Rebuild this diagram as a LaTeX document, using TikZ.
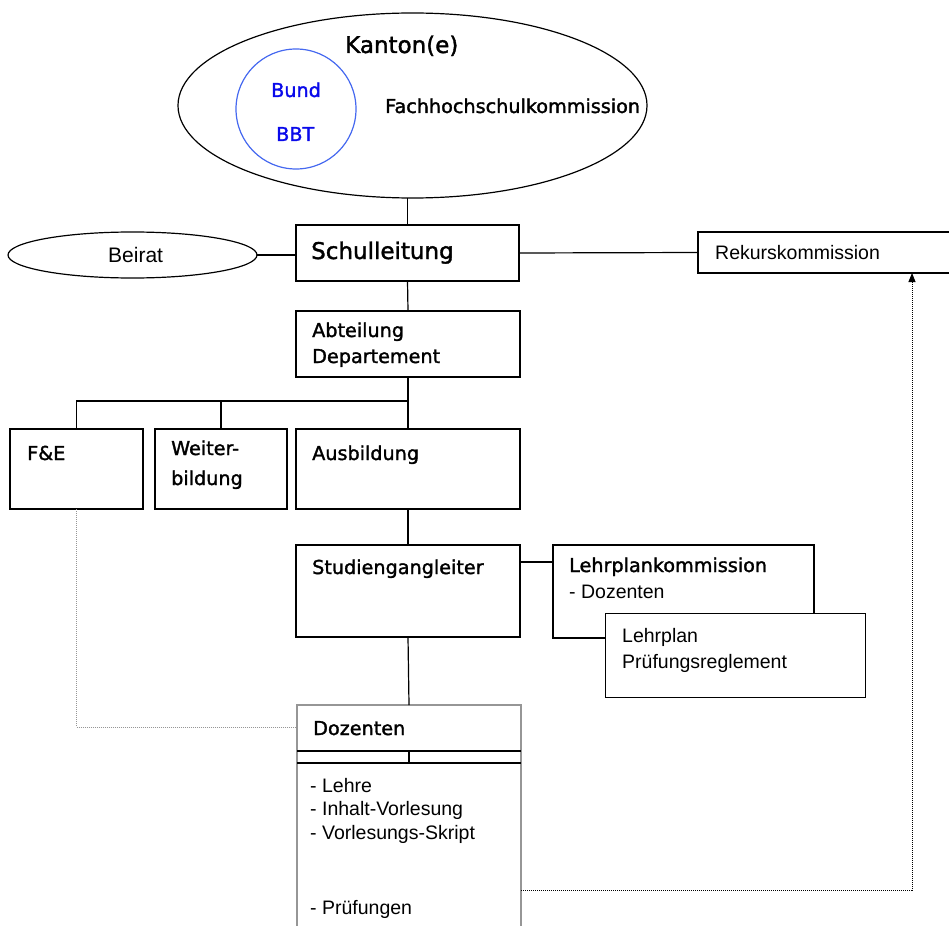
\documentclass[tikz,border=0pt]{standalone}
\usepackage{fontspec}
\setmainfont{DejaVu Sans}
\newfontfamily\hdfont[FakeBold=1.6]{DejaVu Sans}
\newfontfamily\bodyfont{Liberation Sans}
\usetikzlibrary{shapes.geometric,arrows.meta}
\definecolor{circblue}{RGB}{70,105,240}
\definecolor{txtblue}{RGB}{10,10,235}
\definecolor{dozgray}{RGB}{150,150,150}
\begin{document}
\begin{tikzpicture}[x=1pt,y=-1pt,
  box/.style={draw, line width=1.2pt, fill=white, inner sep=0pt, outer sep=0pt},
  hd/.style={font=\hdfont\fontsize{19.2}{24}\selectfont, anchor=base west, inner sep=0pt},
  big/.style={font=\hdfont\fontsize{23}{28}\selectfont, anchor=base west, inner sep=0pt},
  bd/.style={font=\bodyfont\fontsize{19.5}{24}\selectfont, anchor=base west, inner sep=0pt},
  conn/.style={line width=1.2pt},
  dots/.style={line width=1pt, dash pattern=on 1pt off 1pt}]
\useasboundingbox[fill=white] (0,0) rectangle (949,925);

% Top ellipse
\node[ellipse, draw, line width=1.2pt, minimum width=469pt, minimum height=185pt, inner sep=0pt, outer sep=0pt] (kanton) at (412.5,105.5) {};
\node[circle, draw=circblue, line width=1.2pt, minimum size=120pt, inner sep=0pt] (bund) at (296,109) {};
\node[big] (kantontxt) at (345,53) {Kanton(e)};
\node[hd, text=txtblue] (bundtxt) at (271,97) {Bund};
\node[hd, text=txtblue] (bbttxt) at (276,141) {BBT};
\node[hd] (fhk) at (385,113) {Fachhochschulkommission};

% Schulleitung row
\node[box, minimum width=223pt, minimum height=56pt] (schul) at (407.5,253) {};
\node[big] (schultxt) at (311,259) {Schulleitung};
\node[ellipse, draw, line width=1.2pt, minimum width=249pt, minimum height=46pt, inner sep=0pt, outer sep=0pt] (beirat) at (132.5,255) {};
\node[bd, font=\bodyfont\fontsize{21}{24}\selectfont] (beirattxt) at (108,262) {Beirat};
\node[box, minimum width=262pt, minimum height=41pt] (rekurs) at (829,252.5) {};
\node[bd] (rekurstxt) at (715,259) {Rekurskommission};

% Abteilung
\node[box, minimum width=224pt, minimum height=66pt] (abt) at (408,344) {};
\node[hd] (abt1) at (312,337) {Abteilung};
\node[hd] (abt2) at (312,363) {Departement};

% Third row
\node[box, minimum width=133pt, minimum height=80pt] (fe) at (76.5,469) {};
\node[hd] (fetxt) at (27,460) {F\&E};
\node[box, minimum width=132pt, minimum height=80pt] (wb) at (221,469) {};
\node[hd] (wb1) at (171,455) {Weiter-};
\node[hd] (wb2) at (171,485) {bildung};
\node[box, minimum width=224pt, minimum height=80pt] (ausb) at (408,469) {};
\node[hd] (ausbtxt) at (312,460) {Ausbildung};

% Studiengangleiter
\node[box, minimum width=224pt, minimum height=92pt] (stud) at (408,591) {};
\node[hd] (studtxt) at (312,574) {Studiengangleiter};
\node[box, minimum width=261pt, minimum height=93pt, anchor=north west] (lpk) at (553,545) {};
\node[hd] (lpktxt) at (569,572) {Lehrplankommission};
\node[bd] (lpkdoz) at (569,598) {- Dozenten};
\node[box, minimum width=260pt, minimum height=84pt, anchor=north west] (lp) at (605.5,613.5) {};
\node[bd] (lp1) at (622,642) {Lehrplan};
\node[bd] (lp2) at (622,668) {Prüfungsreglement};

% Dozenten
\node[draw=dozgray, line width=2.2pt, fill=white, inner sep=0pt, outer sep=0pt, minimum width=224pt, minimum height=240pt, anchor=north west] (doz) at (297,705) {};
\draw[conn] ([yshift=-46pt]doz.north west) -- ([yshift=-46pt]doz.north east);
\draw[conn] ([yshift=-58pt]doz.north west) -- ([yshift=-58pt]doz.north east);
\draw[conn] ([yshift=-46pt]doz.north) -- ([yshift=-58pt]doz.north);
\node[hd] (doztxt) at (313,735) {Dozenten};
\node[bd] (d1) at (310,792) {- Lehre};
\node[bd] (d2) at (310,815) {- Inhalt-Vorlesung};
\node[bd] (d3) at (310,839) {- Vorlesungs-Skript};
\node[bd] (d4) at (310,914) {- Prüfungen};

% Connectors
\draw[conn] (schul.north) -- (schul.north |- kanton.south);
\draw[conn] (beirat.east) -- (beirat.east -| schul.west);
\draw[conn] (schul.east) -- (rekurs.west);
\draw[conn] (schul.south) -- (abt.north);
\draw[conn] (abt.south) -- (ausb.north);
\coordinate (j) at (408,401);
\draw[conn] (j) -| (fe.north);
\draw[conn] (wb.north) -- (wb.north |- j);
\draw[conn] (ausb.south) -- (stud.north);
\draw[conn] ([yshift=-17pt]stud.north east) -- ([yshift=-17pt]lpk.north west);
\draw[conn] (stud.south) -- (doz.north);
\draw[dots, draw=dozgray] (fe.south) |- ([yshift=-22pt]doz.north west);
\draw[dots, -{Triangle[length=9pt,width=7pt]}] ([yshift=-185pt]doz.north east) -| ([xshift=83pt]rekurs.south);
\end{tikzpicture}
\end{document}
